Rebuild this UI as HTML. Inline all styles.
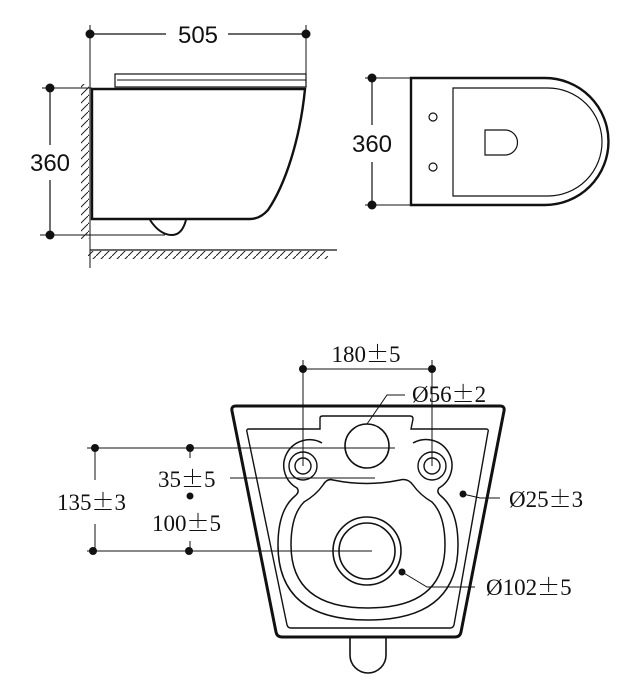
<!DOCTYPE html>
<html><head><meta charset="utf-8"><style>
html,body{margin:0;padding:0;background:#fff;}
svg{display:block;}
.s{font-family:"Liberation Sans",sans-serif;font-size:24px;fill:#111;}
.r{font-family:"Liberation Serif",serif;font-size:23px;fill:#111;}
.p{font-family:"Noto Serif CJK SC","Noto Sans CJK SC",serif;}
</style></head><body>
<svg width="637" height="700" viewBox="0 0 637 700" xmlns="http://www.w3.org/2000/svg">
<defs>
<pattern id="hw" width="8" height="8" patternUnits="userSpaceOnUse"><path d="M0 8 L8 0" stroke="#222" stroke-width="1"/></pattern>
</defs>
<g fill="none" stroke="#111">
<line x1="90" y1="25" x2="90" y2="268" stroke-width="1"/>
<line x1="306" y1="25" x2="306" y2="85" stroke-width="1"/>
<line x1="90" y1="34" x2="166" y2="34" stroke-width="1.2"/>
<line x1="228" y1="34" x2="306" y2="34" stroke-width="1.2"/>
<rect x="115" y="74" width="191" height="13" stroke-width="1.2"/>
<line x1="117" y1="80" x2="306" y2="80" stroke-width="1"/>
<path d="M92 89 L305 89 C300 140 285 185 268 210 Q260 219 250 219 L92 219 Z" stroke-width="2.4"/>
<path d="M150 220 Q160 235 172 235 Q182 235 186 220" stroke-width="2"/>
<line x1="42" y1="88" x2="92" y2="88" stroke-width="1"/>
<line x1="40" y1="235" x2="165" y2="235" stroke-width="1"/>
<line x1="50" y1="88" x2="50" y2="145" stroke-width="1.2"/>
<line x1="50" y1="180" x2="50" y2="235" stroke-width="1.2"/>
<rect x="81" y="84" width="8" height="155" fill="url(#hw)" stroke="none"/>
<line x1="90" y1="250" x2="337" y2="250" stroke-width="1.2"/>
<rect x="88" y="251" width="240" height="8" fill="url(#hw)" stroke="none"/>
<path d="M411 78 L545 78 A63.5 63.5 0 0 1 545 205 L411 205 Z" stroke-width="2.4"/>
<path d="M453 88 L548 88 A54 54 0 0 1 548 196 L453 196 Z" stroke-width="1.2"/>
<circle cx="433" cy="117" r="4" stroke-width="1.2"/>
<circle cx="433" cy="167" r="4" stroke-width="1.2"/>
<path d="M485 130 L505 130 A12.5 12.5 0 0 1 505 155 L485 155 Z" stroke-width="1.2"/>
<line x1="365" y1="78" x2="411" y2="78" stroke-width="1"/>
<line x1="365" y1="205" x2="411" y2="205" stroke-width="1"/>
<line x1="372" y1="78" x2="372" y2="125" stroke-width="1.2"/>
<line x1="372" y1="162" x2="372" y2="205" stroke-width="1.2"/>
<path d="M236 406 L500 406 Q505 406 504 411 L461 632 Q460 637 455 637 L282 637 Q277 637 276 632 L232 411 Q231 406 236 406 Z" stroke-width="3"/>
<path d="M249 429 L320 429 L320 418 Q320 416 323 416 L410 416 Q413 416 413 419 L411 429 L486 429 Q489 429 488 432 L454 625 Q453 628 450 628 L291 628 Q288 628 287 625 L247 432 Q246 429 249 429 Z" stroke-width="1.4"/>
<path d="M350 638 L350 655 A18 18 0 0 0 386 655 L386 638" stroke-width="1.6"/>
<circle cx="367" cy="446" r="22" stroke-width="1.6"/>
<circle cx="303" cy="466" r="8" stroke-width="1.4"/>
<circle cx="303" cy="466" r="14" stroke-width="1.4"/>
<circle cx="432" cy="466" r="8" stroke-width="1.4"/>
<circle cx="432" cy="466" r="14" stroke-width="1.4"/>
<path d="M322 443 A20 20 0 1 0 297 488 Q300 492 295 496 Q278 510 278 545 Q278 620 368 620 Q458 620 458 545 Q458 510 441 496 Q436 492 439 488 A20 20 0 1 0 413 443" stroke-width="1.5"/>
<path d="M333 480 Q367 487 400 480 Q408 478 413 485 Q420 495 432 502 Q445 515 445 545 Q445 608 368 608 Q291 608 291 545 Q291 515 304 502 Q316 495 323 485 Q327 478 333 480 Z" stroke-width="1.5"/>
<circle cx="367" cy="551" r="34" stroke-width="1.6"/>
<circle cx="367" cy="551" r="28" stroke-width="1.6"/>
<line x1="303" y1="360" x2="303" y2="466" stroke-width="1"/>
<line x1="432" y1="360" x2="432" y2="466" stroke-width="1"/>
<line x1="303" y1="369" x2="432" y2="369" stroke-width="1"/>
<line x1="87" y1="448" x2="395" y2="448" stroke-width="1"/>
<line x1="230" y1="478" x2="375" y2="478" stroke-width="1"/>
<line x1="87" y1="551" x2="372" y2="551" stroke-width="1"/>
<line x1="95" y1="448" x2="95" y2="480" stroke-width="1"/>
<line x1="95" y1="524" x2="95" y2="551" stroke-width="1"/>
<line x1="190" y1="448" x2="190" y2="458" stroke-width="1"/>
<line x1="190" y1="541" x2="190" y2="551" stroke-width="1"/>
<path d="M367 424 L387 395 L405 395" stroke-width="1"/>
<path d="M463 494 L480 498 L500 498" stroke-width="1"/>
<path d="M402 572 L427 587 L475 587" stroke-width="1"/>
</g>
<g fill="#111">
<circle cx="90" cy="34" r="4.5"/><circle cx="306" cy="34" r="4.5"/>
<circle cx="50" cy="88" r="4.5"/><circle cx="50" cy="235" r="4.5"/>
<circle cx="372" cy="78" r="4.5"/><circle cx="372" cy="205" r="4.5"/>
<circle cx="303" cy="369" r="4"/><circle cx="432" cy="369" r="4"/>
<circle cx="95" cy="448" r="4"/><circle cx="190" cy="448" r="4"/>
<circle cx="93" cy="551" r="4"/><circle cx="189" cy="551" r="4"/>
<circle cx="190" cy="496" r="3.5"/>
<circle cx="463" cy="494" r="3.5"/><circle cx="402" cy="572" r="3.5"/>
</g>
<text class="s" x="198" y="43" text-anchor="middle">505</text>
<text class="s" x="50" y="171" text-anchor="middle">360</text>
<text class="s" x="372" y="152" text-anchor="middle">360</text>
<text class="r" x="366" y="362" text-anchor="middle">180<tspan class="p">±</tspan>5</text>
<text class="r" x="412" y="402">Ø56<tspan class="p">±</tspan>2</text>
<text class="r" x="158" y="487">35<tspan class="p">±</tspan>5</text>
<text class="r" x="57" y="510">135<tspan class="p">±</tspan>3</text>
<text class="r" x="152" y="531">100<tspan class="p">±</tspan>5</text>
<text class="r" x="509" y="507">Ø25<tspan class="p">±</tspan>3</text>
<text class="r" x="486" y="595">Ø102<tspan class="p">±</tspan>5</text>
</svg>
</body></html>
